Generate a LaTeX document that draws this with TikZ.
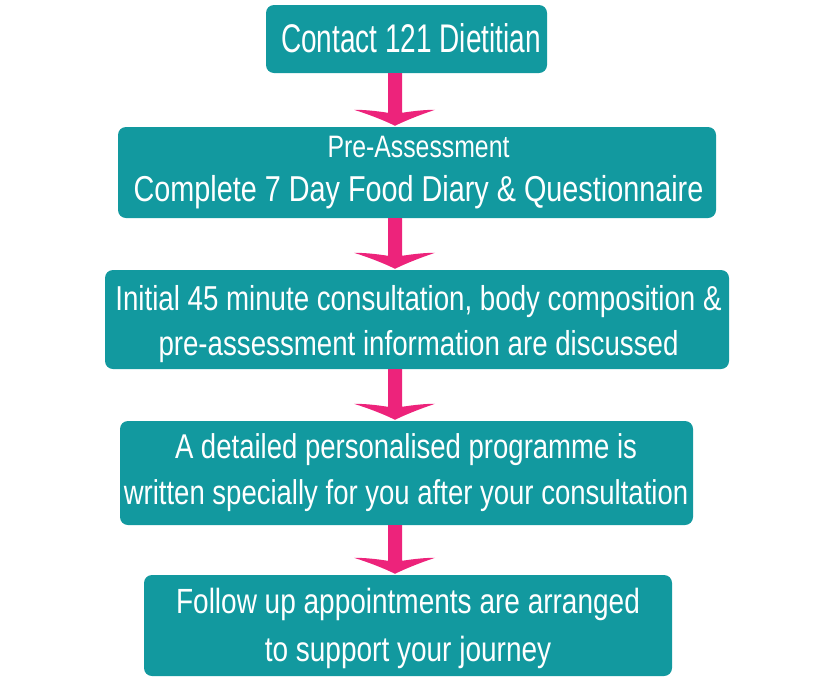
\documentclass[tikz,border=0pt]{standalone}
\usepackage{fontspec}
\setmainfont[FakeStretch=0.8]{Liberation Sans}
\newfontfamily\contactfont[FakeStretch=0.7]{Liberation Sans}
\usetikzlibrary{calc}
\definecolor{tealbox}{RGB}{18,153,159}
\definecolor{pinkarrow}{RGB}{237,35,123}
\tikzset{
  stepbox/.style={fill=tealbox, rounded corners=8pt, inner sep=0pt},
  steptext/.style={text=white, align=center, inner sep=0pt, anchor=north},
  flowarrow/.style={fill=pinkarrow},
}
\newcommand{\strutline}{\rule{0pt}{34pt}}
\newcommand{\flowarrowbetween}[2]{%
  \fill[flowarrow] let \p1=(#1.south -| ax), \p2=(#2.north -| ax) in
    (\x1-7pt,\y1) -- (\x1-7pt,\y2+14pt)
    .. controls (\x1-20pt,\y2+16pt) and (\x1-30pt,\y2+17pt) .. (\x1-41pt,\y2+17pt)
    .. controls (\x1-25pt,\y2+12pt) and (\x1-10pt,\y2+6pt) .. (\x1,\y2+1pt)
    .. controls (\x1+10pt,\y2+6pt) and (\x1+25pt,\y2+12pt) .. (\x1+40pt,\y2+17pt)
    .. controls (\x1+30pt,\y2+17pt) and (\x1+20pt,\y2+16pt) .. (\x1+7pt,\y2+14pt)
    -- (\x1+7pt,\y1) -- cycle;}
\begin{document}
\begin{tikzpicture}[x=1pt,y=-1pt]
\useasboundingbox (0,0) rectangle (832,678);
\coordinate (ax) at (395,0);
% boxes
\node[stepbox, minimum width=281pt, minimum height=68pt] (n1) at (406.5,39) {};
\node[stepbox, minimum width=598pt, minimum height=91pt] (n2) at (417,172.5) {};
\node[stepbox, minimum width=624pt, minimum height=99pt] (n3) at (417,319.5) {};
\node[stepbox, minimum width=573pt, minimum height=104pt] (n4) at (406.5,473) {};
\node[stepbox, minimum width=528pt, minimum height=101pt] (n5) at (408,625.5) {};
% texts (top of each = first baseline - 34)
\node[steptext, font=\contactfont\fontsize{40}{44}\selectfont] (t1) at (411,18)
  {\strutline Contact 121 Dietitian};
\node[steptext, font=\fontsize{36}{44}\selectfont] (t2) at (418.5,123)
  {\strutline{\fontsize{31}{44}\selectfont Pre-Assessment}\\Complete 7 Day Food Diary \& Questionnaire};
\node[steptext, font=\fontsize{34.6}{45}\selectfont] (t3) at (418.5,276)
  {\strutline Initial 45 minute consultation, body composition \&\\pre-assessment information are discussed};
\node[steptext, font=\fontsize{34.4}{46}\selectfont] (t4) at (406,424)
  {\strutline A detailed personalised programme is\\written specially for you after your consultation};
\node[steptext, font=\fontsize{35}{48}\selectfont] (t5) at (408,579)
  {\strutline Follow up appointments are arranged\\to support your journey};
% connectors
\flowarrowbetween{n1}{n2}
\flowarrowbetween{n2}{n3}
\flowarrowbetween{n3}{n4}
\flowarrowbetween{n4}{n5}
\end{tikzpicture}
\end{document}
